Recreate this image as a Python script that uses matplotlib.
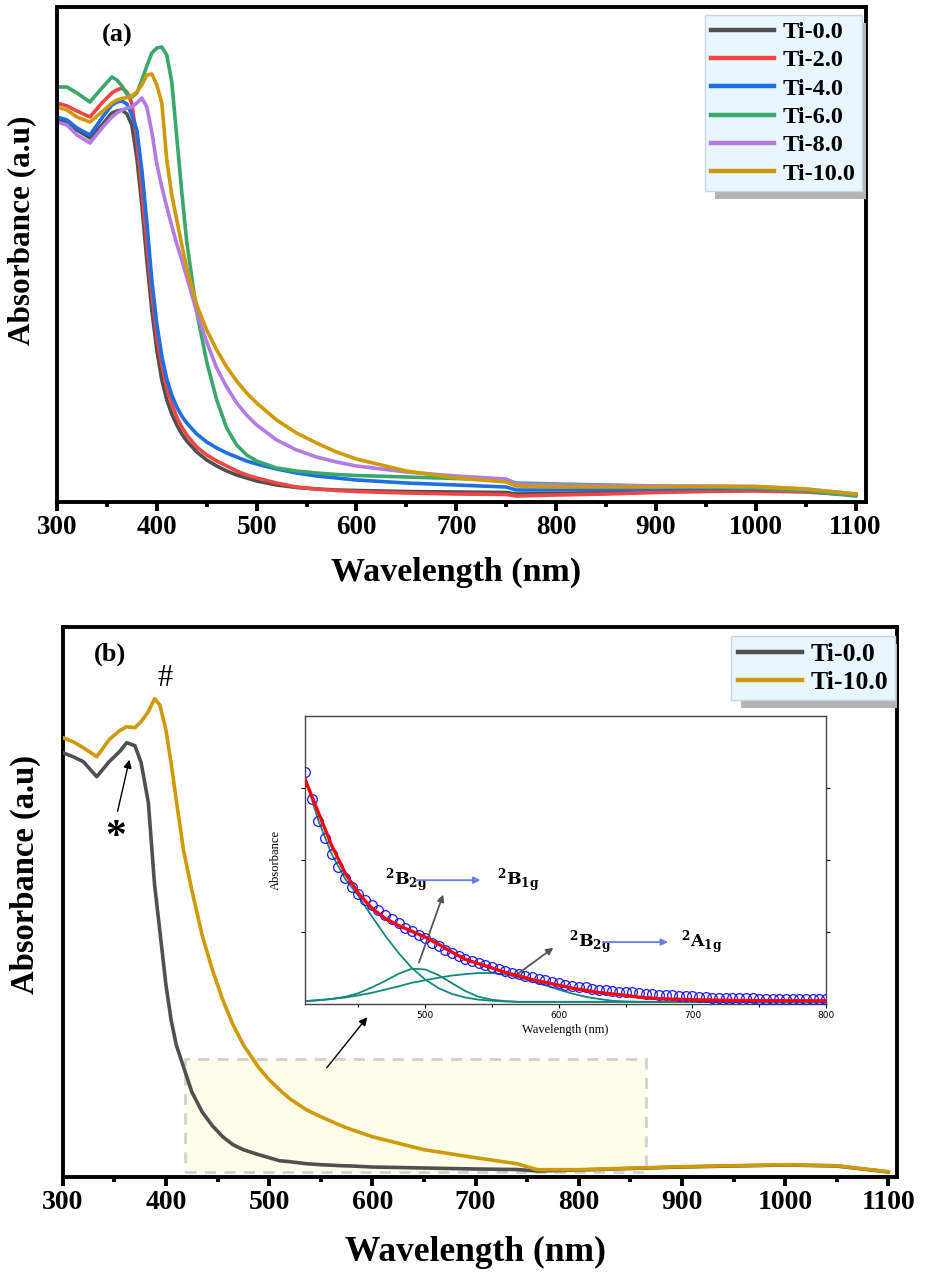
import numpy as np
import matplotlib
matplotlib.use("Agg")
import matplotlib.pyplot as plt
from matplotlib.patches import Rectangle
from matplotlib.ticker import MultipleLocator

W, H = 925, 1274

# ---------------- panel (a) data ----------------
wl_a = [300, 310, 320, 333, 345, 355, 360, 365, 370, 375, 380, 385, 390, 395, 400, 405,
        410, 415, 420, 425, 430, 440, 450, 460, 470, 480, 490, 500, 520, 540, 560, 580,
        600, 650, 700, 750, 760, 800, 850, 900, 950, 1000, 1050, 1100]
ti00_a = [3.83, 3.79, 3.72, 3.64, 3.77, 3.89, 3.91, 3.92, 3.88, 3.77, 3.44, 2.97, 2.42, 1.92, 1.52, 1.22,
          1.02, 0.88, 0.77, 0.68, 0.61, 0.50, 0.42, 0.36, 0.31, 0.27, 0.24, 0.21, 0.17, 0.145, 0.13, 0.12,
          0.115, 0.105, 0.10, 0.095, 0.08, 0.085, 0.095, 0.105, 0.115, 0.12, 0.11, 0.07]
ti20_a = [3.99, 3.96, 3.91, 3.85, 3.99, 4.09, 4.12, 4.14, 4.10, 3.99, 3.62, 3.12, 2.60, 2.08, 1.65, 1.37,
          1.14, 0.98, 0.85, 0.75, 0.67, 0.55, 0.47, 0.41, 0.36, 0.31, 0.27, 0.24, 0.19, 0.15, 0.13, 0.115,
          0.105, 0.09, 0.08, 0.075, 0.06, 0.07, 0.08, 0.095, 0.105, 0.11, 0.10, 0.07]
ti40_a = [3.85, 3.82, 3.74, 3.67, 3.84, 3.97, 4.00, 4.01, 3.98, 3.87, 3.72, 3.32, 2.80, 2.22, 1.78, 1.46,
          1.23, 1.07, 0.95, 0.86, 0.79, 0.68, 0.60, 0.54, 0.49, 0.45, 0.41, 0.38, 0.33, 0.29, 0.26, 0.24,
          0.22, 0.19, 0.17, 0.15, 0.12, 0.12, 0.125, 0.13, 0.135, 0.135, 0.12, 0.075]
ti60_a = [4.15, 4.15, 4.09, 4.00, 4.14, 4.25, 4.22, 4.16, 4.08, 4.05, 4.09, 4.22, 4.36, 4.49, 4.54, 4.55,
          4.47, 4.20, 3.65, 3.10, 2.60, 1.90, 1.40, 1.02, 0.74, 0.57, 0.47, 0.41, 0.34, 0.31, 0.29, 0.275,
          0.265, 0.25, 0.235, 0.22, 0.19, 0.18, 0.17, 0.16, 0.15, 0.14, 0.11, 0.06]
ti80_a = [3.80, 3.77, 3.67, 3.59, 3.74, 3.85, 3.89, 3.92, 3.94, 3.95, 3.99, 4.04, 3.95, 3.70, 3.38, 3.15,
          2.95, 2.76, 2.58, 2.42, 2.25, 1.90, 1.60, 1.34, 1.15, 0.99, 0.87, 0.77, 0.62, 0.52, 0.45, 0.40,
          0.36, 0.30, 0.26, 0.23, 0.18, 0.17, 0.165, 0.16, 0.16, 0.155, 0.13, 0.08]
ti100_a = [3.95, 3.92, 3.85, 3.80, 3.90, 3.99, 4.02, 4.035, 4.045, 4.06, 4.10, 4.17, 4.27, 4.28, 4.17, 3.99,
           3.42, 3.07, 2.82, 2.57, 2.34, 1.97, 1.72, 1.52, 1.35, 1.21, 1.09, 0.99, 0.82, 0.69, 0.59, 0.50,
           0.43, 0.31, 0.24, 0.20, 0.16, 0.15, 0.15, 0.15, 0.155, 0.155, 0.13, 0.08]
labels_a = ["Ti-0.0", "Ti-2.0", "Ti-4.0", "Ti-6.0", "Ti-8.0", "Ti-10.0"]
colors_a = ["#505050", "#ef4545", "#1e6fe0", "#3aa86a", "#b37be3", "#cf9a08"]

# ---------------- panel (b) data ----------------
wl_b = [300, 310, 320, 333, 345, 355, 362, 370, 376, 383, 389, 394, 400, 405, 410, 417,
        425, 435, 445, 455, 465, 475, 490, 500, 510, 520, 536, 550, 570, 580, 600, 650,
        700, 740, 760, 800, 900, 1000, 1050, 1100]
ti00_b = [4.24, 4.20, 4.15, 4.00, 4.15, 4.25, 4.34, 4.31, 4.14, 3.74, 2.92, 2.47, 1.92, 1.57, 1.32, 1.10,
          0.85, 0.65, 0.51, 0.40, 0.32, 0.27, 0.22, 0.19, 0.16, 0.15, 0.13, 0.12, 0.11, 0.107, 0.097, 0.087,
          0.077, 0.072, 0.057, 0.067, 0.097, 0.117, 0.107, 0.047]
ti100_b = [4.39, 4.35, 4.29, 4.20, 4.37, 4.46, 4.50, 4.49, 4.55, 4.65, 4.78, 4.72, 4.47, 4.14, 3.77, 3.27,
           2.87, 2.42, 2.07, 1.77, 1.52, 1.32, 1.09, 0.97, 0.87, 0.78, 0.67, 0.60, 0.51, 0.47, 0.40, 0.27,
           0.19, 0.13, 0.07, 0.07, 0.10, 0.12, 0.11, 0.05]

# ---------------- inset data ----------------
wl_fit = list(range(410, 801, 10))
fit_total = [3.12, 2.66, 2.20, 1.82, 1.54, 1.33, 1.19, 1.09, 1.01, 0.93, 0.83, 0.72, 0.62, 0.56, 0.50,
             0.44, 0.39, 0.34, 0.30, 0.26, 0.22, 0.19, 0.16, 0.14, 0.12, 0.095, 0.08, 0.07, 0.065, 0.06,
             0.056, 0.053, 0.05, 0.05, 0.048, 0.047, 0.046, 0.045, 0.045, 0.045]
comp_edge = [3.15, 2.55, 2.08, 1.74, 1.50, 1.22, 0.95, 0.71, 0.50, 0.34, 0.22, 0.14, 0.09, 0.06, 0.045,
             0.035, 0.03, 0.03, 0.03, 0.03, 0.03, 0.03, 0.03, 0.03, 0.03, 0.03, 0.03, 0.03, 0.03, 0.03,
             0.03, 0.03, 0.03, 0.03, 0.03, 0.03, 0.03, 0.03, 0.03, 0.03]
comp_b1g = [0.04, 0.05, 0.07, 0.10, 0.15, 0.23, 0.32, 0.42, 0.49, 0.48, 0.40, 0.29, 0.18, 0.10, 0.06,
            0.04, 0.03, 0.03, 0.03, 0.03, 0.03, 0.03, 0.03, 0.03, 0.03, 0.03, 0.03, 0.03, 0.03, 0.03,
            0.03, 0.03, 0.03, 0.03, 0.03, 0.03, 0.03, 0.03, 0.03, 0.03]
comp_a1g = [0.04, 0.055, 0.07, 0.09, 0.12, 0.155, 0.20, 0.245, 0.295, 0.33, 0.365, 0.395, 0.415, 0.43, 0.43,
            0.41, 0.37, 0.32, 0.26, 0.20, 0.145, 0.10, 0.07, 0.045, 0.035, 0.03, 0.03, 0.03, 0.03, 0.03,
            0.03, 0.03, 0.03, 0.03, 0.03, 0.03, 0.03, 0.03, 0.03, 0.03]
wl_exp = list(range(410, 801, 5))
exp_abs = [3.22, 2.85, 2.54, 2.30, 2.08, 1.90, 1.75, 1.62, 1.53, 1.45, 1.37, 1.30, 1.23, 1.18, 1.12, 1.06,
           1.01, 0.96, 0.91, 0.85, 0.80, 0.75, 0.71, 0.67, 0.63, 0.60, 0.57, 0.54, 0.51, 0.48, 0.46, 0.43,
           0.41, 0.39, 0.37, 0.35, 0.33, 0.31, 0.29, 0.27, 0.25, 0.24, 0.23, 0.21, 0.20, 0.19, 0.18, 0.17,
           0.165, 0.16, 0.15, 0.145, 0.14, 0.13, 0.125, 0.12, 0.115, 0.11, 0.105, 0.10, 0.095, 0.09, 0.09,
           0.085, 0.085, 0.08, 0.08, 0.08, 0.075, 0.075, 0.07, 0.07, 0.07, 0.07, 0.07, 0.07, 0.07, 0.07, 0.07]

plt.rcParams['font.family'] = ['Liberation Serif', 'DejaVu Serif']
plt.rcParams['font.weight'] = 'bold'
plt.rcParams['mathtext.fontset'] = 'dejavuserif'

fig = plt.figure(figsize=(W / 100, H / 100), dpi=100)


def fpx(x, y):
    return (x, H - y)


def style_main(ax, xmax, ymax, tsize):
    ax.set_xlim(300, xmax)
    ax.set_ylim(0, ymax)
    ax.set_yticks([])
    ax.xaxis.set_major_locator(MultipleLocator(100))
    ax.xaxis.set_minor_locator(MultipleLocator(50))
    ax.tick_params(axis='x', which='major', direction='out', length=6.5, width=2.8,
                   labelsize=tsize, pad=3)
    ax.tick_params(axis='x', which='minor', direction='out', length=3.5, width=2.8)
    for s in ax.spines.values():
        s.set_linewidth(2.8)
    for lab in ax.get_xticklabels():
        lab.set_fontweight('bold')


def add_shadow(ax, leg, dx=10, dy=8):
    fig.canvas.draw()
    bb = leg.get_window_extent()
    inv = ax.transAxes.inverted()
    (x0, y0) = inv.transform((bb.x0 + dx, bb.y0 - dy))
    (x1, y1) = inv.transform((bb.x1 + dx, bb.y1 - dy))
    r = Rectangle((x0, y0), x1 - x0, y1 - y0, transform=ax.transAxes, facecolor='#b3b3b3',
                  edgecolor='none', zorder=leg.get_zorder() - 0.5, clip_on=True)
    ax.add_patch(r)


# ================= panel (a) =================
ax_a = fig.add_axes([57 / W, 1 - 502 / H, (866 - 57) / W, (502 - 7) / H])
series_a = [ti00_a, ti20_a, ti40_a, ti60_a, ti80_a, ti100_a]
for vals, lab, col in zip(series_a, labels_a, colors_a):
    ax_a.plot(wl_a, vals, color=col, lw=2.6, label=lab, solid_joinstyle='round')
style_main(ax_a, 1110.5, 4.95, 19.5)
ax_a.set_xlabel("Wavelength (nm)", fontsize=24.5, fontweight='bold')
ax_a.xaxis.set_label_coords((456 - 57) / 809, -(572 - 502) / 495)
ax_a.set_ylabel("Absorbance (a.u)", fontsize=22.5, fontweight='bold')
ax_a.yaxis.set_label_coords(-(57 - 22) / 809, (502 - 230) / 495)
ax_a.xaxis.label.set_va('center')
ax_a.yaxis.label.set_va('center')
leg_a = ax_a.legend(loc='upper right', bbox_to_anchor=(0.995, 0.984), borderaxespad=0,
                    prop={'family': 'Liberation Serif', 'weight': 'bold', 'size': 17.5},
                    frameon=True, fancybox=False, facecolor='#eaf6ff', edgecolor='#c9d6e0',
                    framealpha=1, handlelength=2.6, handletextpad=0.35, labelspacing=0.26,
                    borderpad=0.25)
leg_a.get_frame().set_linewidth(1.0)
for ln in leg_a.get_lines():
    ln.set_linewidth(3.2)
fig.text(117 / W, 1 - 35 / H, "(a)", fontsize=19, fontweight='bold', ha='center', va='center')

# ================= panel (b) =================
ax_b = fig.add_axes([62.7 / W, 1 - 1176.7 / H, (897.3 - 62.7) / W, (1176.7 - 627.3) / H])
rect_x0, rect_x1, rect_y0, rect_y1 = 418.5, 865.2, 0.047, 1.177
ax_b.add_patch(Rectangle((rect_x0, rect_y0), rect_x1 - rect_x0, rect_y1 - rect_y0,
                         facecolor='#fefeea', edgecolor='#d2d2cc', lw=2.0, ls=(0, (4, 3)), zorder=1))
ax_b.plot(wl_b, ti00_b, color="#505050", lw=2.6, label="Ti-0.0", zorder=3)
ax_b.plot(wl_b, ti100_b, color="#cf9a08", lw=2.6, label="Ti-10.0", zorder=3)
style_main(ax_b, 1108.7, 5.494, 20)
ax_b.set_xlabel("Wavelength (nm)", fontsize=25.5, fontweight='bold')
ax_b.xaxis.set_label_coords((475 - 62.7) / 834.6, -(1252 - 1176.7) / 549.4)
ax_b.set_ylabel("Absorbance (a.u)", fontsize=23.5, fontweight='bold')
ax_b.yaxis.set_label_coords(-(62.7 - 25) / 834.6, (1176.7 - 875) / 549.4)
ax_b.xaxis.label.set_va('center')
ax_b.yaxis.label.set_va('center')
leg_b = ax_b.legend(loc='upper right', bbox_to_anchor=(0.997, 0.984), borderaxespad=0,
                    prop={'family': 'Liberation Serif', 'weight': 'bold', 'size': 18.5},
                    frameon=True, fancybox=False, facecolor='#eaf6ff', edgecolor='#c9d6e0',
                    framealpha=1, handlelength=2.5, handletextpad=0.35, labelspacing=0.2,
                    borderpad=0.25)
leg_b.get_frame().set_linewidth(1.0)
for ln in leg_b.get_lines():
    ln.set_linewidth(3.2)
fig.text(110 / W, 1 - 654 / H, "(b)", fontsize=19, fontweight='bold', ha='center', va='center')
fig.text(165 / W, 1 - 679 / H, "#", fontsize=22, fontweight='normal', ha='center', va='center')
fig.text(116 / W, 1 - 838 / H, "*", fontsize=30, fontweight='bold', ha='center', va='center')
fig.add_artist(matplotlib.patches.FancyArrowPatch(fpx(117, 814), fpx(130, 757),
               transform=None, arrowstyle='-|>', mutation_scale=12, lw=1.0, color='black'))
fig.add_artist(matplotlib.patches.FancyArrowPatch(fpx(325, 1070), fpx(369, 1015),
               transform=None, arrowstyle='-|>', mutation_scale=12, lw=1.0, color='black'))

# ================= inset =================
ax_in = fig.add_axes([305 / W, 1 - 1004 / H, (826 - 305) / W, (1004 - 716) / H])
ax_in.plot(wl_fit, comp_edge, color='#13877f', lw=1.3, zorder=2)
ax_in.plot(wl_fit, comp_b1g, color='#13877f', lw=1.3, zorder=2)
ax_in.plot(wl_fit, comp_a1g, color='#13877f', lw=1.3, zorder=2)
ax_in.plot(wl_exp, exp_abs, ls='none', marker='o', ms=7, mfc='none', mec='#1a1aff', mew=0.9, zorder=3)
ax_in.plot(wl_fit, fit_total, color='#ff0000', lw=2.4, zorder=4)
ax_in.set_xlim(410, 800)
ax_in.set_ylim(0, 4)
ax_in.set_xticks([500, 600, 700, 800])
ax_in.xaxis.set_minor_locator(MultipleLocator(50))
ax_in.set_yticks([1, 2, 3])
ax_in.set_yticklabels([])
ax_in.tick_params(axis='x', which='major', direction='out', length=3, width=0.8, labelsize=6.5,
                  pad=2, labelfontfamily='DejaVu Sans')
ax_in.tick_params(axis='x', which='minor', direction='out', length=2, width=0.8)
ax_in.tick_params(axis='y', which='major', direction='out', length=3, width=0.8, right=True)
for lab in ax_in.get_xticklabels():
    lab.set_fontweight('normal')
for s in ax_in.spines.values():
    s.set_linewidth(1.0)
    s.set_color('#444444')
ax_in.set_xlabel("Wavelength (nm)", fontsize=9, fontweight='normal', labelpad=3)
ax_in.set_ylabel("Absorbance", fontsize=9, fontweight='normal', labelpad=10)

lab_kw = dict(fontsize=12.5, transform=ax_in.transAxes, va='center')
ax_in.text(0.154, 0.43, r'$^{\mathbf{2}}\mathbf{B}_{\mathbf{2g}}$', ha='left', **lab_kw)
ax_in.text(0.369, 0.43, r'$^{\mathbf{2}}\mathbf{B}_{\mathbf{1g}}$', ha='left', **lab_kw)
ax_in.text(0.507, 0.215, r'$^{\mathbf{2}}\mathbf{B}_{\mathbf{2g}}$', ha='left', **lab_kw)
ax_in.text(0.722, 0.215, r'$^{\mathbf{2}}\mathbf{A}_{\mathbf{1g}}$', ha='left', **lab_kw)
arr_blue = dict(arrowstyle='-|>', color='#6b7fe6', lw=1.3, mutation_scale=10)
ax_in.annotate('', xy=(0.342, 0.43), xytext=(0.207, 0.43), xycoords='axes fraction', arrowprops=arr_blue)
ax_in.annotate('', xy=(0.702, 0.215), xytext=(0.566, 0.215), xycoords='axes fraction', arrowprops=arr_blue)
arr_gray = dict(arrowstyle='-|>', color='#555555', lw=1.3, mutation_scale=10)
ax_in.annotate('', xy=(0.267, 0.389), xytext=(0.217, 0.135), xycoords='axes fraction', arrowprops=arr_gray)
ax_in.annotate('', xy=(0.481, 0.201), xytext=(0.405, 0.10), xycoords='axes fraction', arrowprops=arr_gray)

add_shadow(ax_a, leg_a)
add_shadow(ax_b, leg_b)

fig.savefig("out.png", dpi=100)
